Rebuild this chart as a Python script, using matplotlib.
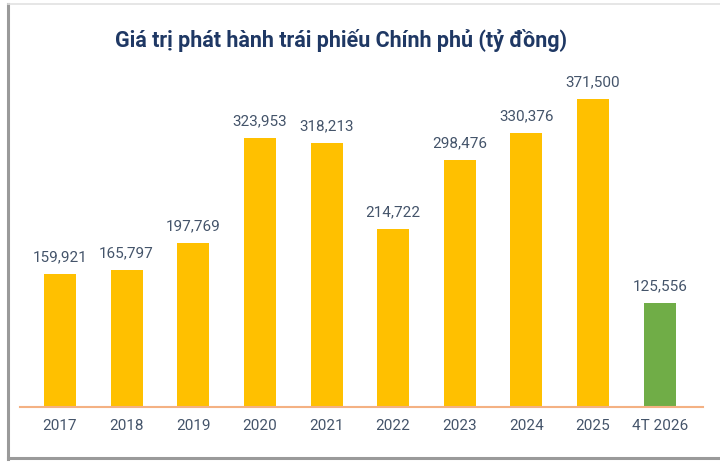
import matplotlib.pyplot as plt
from matplotlib.lines import Line2D

years = ["2017", "2018", "2019", "2020", "2021", "2022", "2023", "2024", "2025", "4T 2026"]
issued = [159921, 165797, 197769, 323953, 318213, 214722, 298476, 330376, 371500, 125556]
bar_colors = ["#FFC000"] * 9 + ["#70AD47"]

plt.rcParams["font.family"] = ["Roboto", "DejaVu Sans"]

fig = plt.figure(figsize=(7.2, 4.63), dpi=100)
ax = fig.add_axes([20 / 720, 56 / 463, 683 / 720, 331.6 / 463])

x = range(len(years))
ax.bar(x, issued, width=0.48, color=bar_colors, zorder=2)
for xi, v in zip(x, issued):
    ax.annotate(f"{v:,}", (xi, v), xytext=(0, 7), textcoords="offset points",
                ha="center", va="bottom", fontsize=11, color="#44546A")

ax.set_xlim(-0.6, 9.65)
ax.set_ylim(0, 400000)
ax.set_xticks(list(x))
ax.set_xticklabels(years, fontsize=11, color="#44546A")
ax.tick_params(axis="x", length=0, pad=9)
ax.set_yticks([])
for side in ["top", "right", "left"]:
    ax.spines[side].set_visible(False)
ax.spines["bottom"].set_color("#F4B183")
ax.spines["bottom"].set_linewidth(1.5)
ax.patch.set_alpha(0)

fig.text(341 / 720, 1 - 40 / 463, "Giá trị phát hành trái phiếu Chính phủ (tỷ đồng)",
         ha="center", va="center", fontsize=15.5, fontweight="bold", color="#1F3864")

# panel border with a soft shadow on the left and bottom
fig.add_artist(Line2D([8 / 720, 8 / 720], [4 / 463, 459 / 463], color="#9A9A9A", lw=2.2))
fig.add_artist(Line2D([8 / 720, 1], [5 / 463, 5 / 463], color="#9A9A9A", lw=2.2))
fig.add_artist(Line2D([8 / 720, 1], [459 / 463, 459 / 463], color="#E2E2E2", lw=1.2))

fig.savefig("out.png", dpi=100)
